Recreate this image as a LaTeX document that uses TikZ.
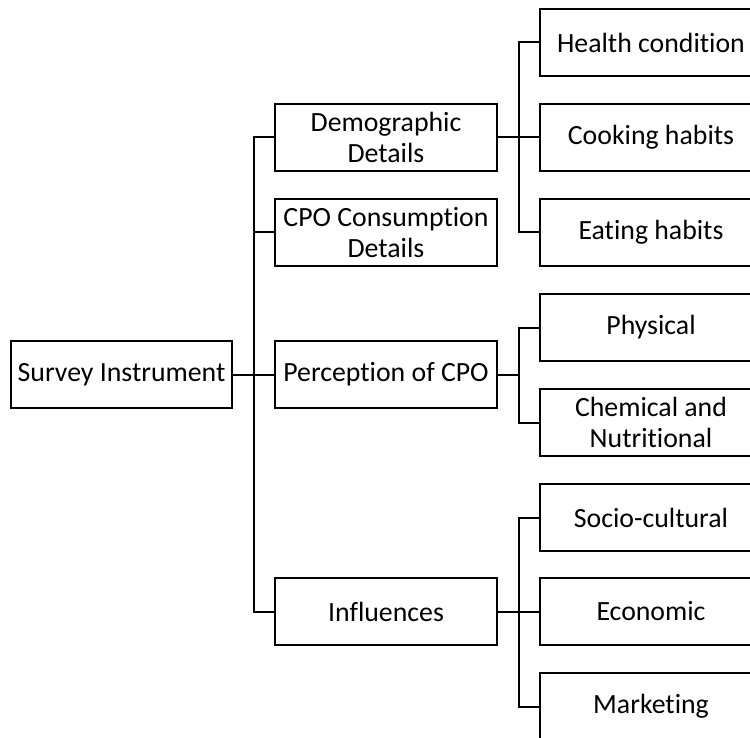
\documentclass[tikz,border=0pt]{standalone}
\usepackage{fontspec}
\setmainfont[Ligatures=NoCommon]{Carlito}
\begin{document}
\begin{tikzpicture}[x=1pt,y=-1pt,
  box/.style={draw=black,line width=2pt,minimum height=67pt,inner sep=0pt,
    align=center,font=\fontsize{27.8}{31}\selectfont},
  lbox/.style={box,minimum width=221pt},
  mbox/.style={box,minimum width=222pt},
  rbox/.style={box,minimum width=222pt},
  conn/.style={draw=black,line width=2pt}]
\useasboundingbox (0,0) rectangle (750,738);
\clip (0,0) rectangle (750,738);
\node[lbox] (si) at (121.5,374.5) {Survey Instrument};
\node[mbox] (dem) at (386,137.5) {Demographic\\Details};
\node[mbox] (cpo) at (386,232.5) {CPO Consumption\\Details};
\node[mbox] (per) at (386,374.5) {Perception of CPO};
\node[mbox] (inf) at (386,611.5) {Influences};
\node[rbox] (hea) at (651,42.5) {Health condition};
\node[rbox] (coo) at (651,137.5) {Cooking habits};
\node[rbox] (eat) at (651,232.5) {Eating habits};
\node[rbox] (phy) at (651,327.5) {Physical};
\node[rbox] (che) at (651,422.5) {Chemical and\\Nutritional};
\node[rbox] (soc) at (651,517.5) {Socio-cultural};
\node[rbox] (eco) at (651,611.5) {Economic};
\node[rbox] (mar) at (651,706.5) {Marketing};
\coordinate (b1) at (254,374.5);
\coordinate (b2) at (519,137.5);
\coordinate (b3) at (519,374.5);
\coordinate (b4) at (519,611.5);
% level 1
\draw[conn] (si.east) -- (b1);
\draw[conn] (dem.west) -| (b1 |- inf.west) -- (inf.west);
\draw[conn] (cpo.west) -- (cpo.west -| b1);
\draw[conn] (per.west) -- (per.west -| b1);
% demographic
\draw[conn] (dem.east) -- (b2);
\draw[conn] (hea.west) -| (b2 |- eat.west) -- (eat.west);
\draw[conn] (coo.west) -- (coo.west -| b2);
% perception
\draw[conn] (per.east) -- (b3);
\draw[conn] (phy.west) -| (b3 |- che.west) -- (che.west);
% influences
\draw[conn] (inf.east) -- (b4);
\draw[conn] (soc.west) -| (b4 |- mar.west) -- (mar.west);
\draw[conn] (eco.west) -- (eco.west -| b4);
\end{tikzpicture}
\end{document}
